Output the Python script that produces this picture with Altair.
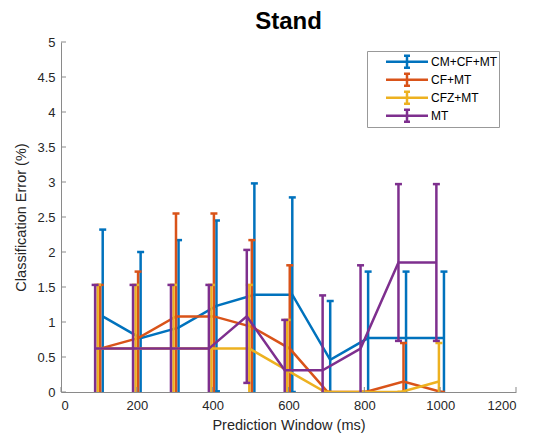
import altair as alt
import pandas as pd

# ---- data ----
windows = [100, 200, 300, 400, 500, 600, 700, 800, 900, 1000]
series = ["CM+CF+MT", "CF+MT", "CFZ+MT", "MT"]
colors = ["#0072BD", "#D95319", "#EDB120", "#7E2F8E"]
dodge_ms = [10, 3.3, -3.3, -10]

cm_mean = [1.08, 0.77, 0.92, 1.23, 1.39, 1.39, 0.46, 0.77, 0.77, 0.77]
cm_err = [1.24, 1.23, 1.25, 1.22, 1.59, 1.39, 0.84, 0.95, 0.95, 0.95]
cf_mean = [0.62, 0.77, 1.08, 1.08, 0.93, 0.62, 0.0, 0.0, 0.15, 0.0]
cf_err = [0.91, 0.95, 1.47, 1.47, 1.24, 1.19, 0.0, 0.0, 0.55, 0.0]
cfz_mean = [0.62, 0.62, 0.62, 0.62, 0.62, 0.31, 0.0, 0.0, 0.0, 0.15]
cfz_err = [0.91, 0.91, 0.91, 0.91, 0.91, 0.72, 0.0, 0.0, 0.0, 0.55]
mt_mean = [0.62, 0.62, 0.62, 0.62, 1.08, 0.31, 0.31, 0.62, 1.85, 1.85]
mt_err = [0.91, 0.91, 0.91, 0.91, 0.95, 0.72, 1.07, 1.19, 1.12, 1.12]

x_ticks = [0, 200, 400, 600, 800, 1000, 1200]
y_ticks = [0, 0.5, 1, 1.5, 2, 2.5, 3, 3.5, 4, 4.5, 5]

means = [cm_mean, cf_mean, cfz_mean, mt_mean]
errs = [cm_err, cf_err, cfz_err, mt_err]

rows = []
for name, d, ms, es in zip(series, dodge_ms, means, errs):
    for w, m, e in zip(windows, ms, es):
        rows.append({"series": name, "x": w + d, "mean": m, "lo": m - e, "hi": m + e})
df = pd.DataFrame(rows)

FONT = "Liberation Sans"
W, H = 455, 350
LW = 2.5
AXC = "#8a8a8a"

xs = alt.Scale(domain=[0, 1200], nice=False, zero=False)
ys = alt.Scale(domain=[0, 5], nice=False, zero=False)

x_axis = alt.Axis(values=x_ticks, format="d", title="Prediction Window (ms)", grid=False,
                  ticks=False, labelPadding=7, titlePadding=6, labelOverlap=False,
                  domainColor=AXC, domainWidth=1,
                  labelFont=FONT, labelFontSize=13, labelColor="#262626",
                  titleFont=FONT, titleFontSize=14.5, titleColor="#262626", titleFontWeight="normal")
y_axis = alt.Axis(values=y_ticks, format=".1~f", title="Classification Error (%)", grid=False,
                  ticks=False, labelPadding=6, titlePadding=8, labelOverlap=False,
                  domainColor=AXC, domainWidth=1,
                  labelFont=FONT, labelFontSize=13, labelColor="#262626",
                  titleFont=FONT, titleFontSize=14.5, titleColor="#262626", titleFontWeight="normal")

legend_path = "M-3.23,0H3.23M0,-0.92V0.92M-0.46,-0.92H0.46M-0.46,0.92H0.46"
color = alt.Color(
    "series:N",
    scale=alt.Scale(domain=series, range=colors),
    legend=alt.Legend(
        title=None, orient="none", legendX=306, legendY=9, direction="vertical",
        symbolType=legend_path, symbolSize=169, symbolStrokeWidth=LW,
        symbolFillColor="transparent", symbolOffset=30, labelOffset=16,
        labelFont=FONT, labelFontSize=12, labelColor="black",
        labelExpr="datum.label + '\u00a0\u00a0'",
        strokeColor="#999999", fillColor="white", padding=2, rowPadding=0,
        clipHeight=17.5, labelLimit=200,
    ),
)

layers = []
for name in series:
    base = alt.Chart(df).transform_filter(alt.datum.series == name)
    bars = base.mark_rule(strokeWidth=LW, clip=True).encode(
        x=alt.X("x:Q", scale=xs, axis=x_axis),
        y=alt.Y("lo:Q", scale=ys, axis=y_axis),
        y2="hi:Q",
        color=color,
    )
    cap_hi = base.mark_tick(orient="horizontal", size=7, thickness=LW, opacity=1, clip=True).encode(
        x=alt.X("x:Q", scale=xs, axis=x_axis), y=alt.Y("hi:Q", scale=ys, axis=y_axis), color=color
    )
    cap_lo = base.mark_tick(orient="horizontal", size=7, thickness=LW, opacity=1, clip=True).encode(
        x=alt.X("x:Q", scale=xs, axis=x_axis), y=alt.Y("lo:Q", scale=ys, axis=y_axis), color=color
    )
    line = base.mark_line(strokeWidth=LW, clip=True).encode(
        x=alt.X("x:Q", scale=xs, axis=x_axis), y=alt.Y("mean:Q", scale=ys, axis=y_axis), color=color
    )
    layers += [bars, cap_hi, cap_lo, line]

ytick_df = pd.DataFrame({"v": y_ticks})
xtick_df = pd.DataFrame({"v": x_ticks})
ytk = alt.Chart(ytick_df).mark_tick(orient="horizontal", size=5, thickness=1, color=AXC, opacity=1).encode(
    y=alt.Y("v:Q", scale=ys, axis=y_axis), x=alt.value(2.5)
)
xtk = alt.Chart(xtick_df).mark_tick(orient="vertical", size=5, thickness=1, color=AXC, opacity=1).encode(
    x=alt.X("v:Q", scale=xs, axis=x_axis), y=alt.value(H - 2.5)
)

chart = alt.layer(*layers, ytk, xtk).properties(
    width=W, height=H,
    background="white",
    title=alt.TitleParams("Stand", font=FONT, fontSize=24, fontWeight="bold", color="black",
                          anchor="middle", offset=2),
    autosize=alt.AutoSizeParams(type="none"),
    padding={"left": 53, "top": 34, "right": 10, "bottom": 44},
).configure_view(stroke=None)

chart.save("out.html", embed_options={"renderer": "svg", "actions": False})
